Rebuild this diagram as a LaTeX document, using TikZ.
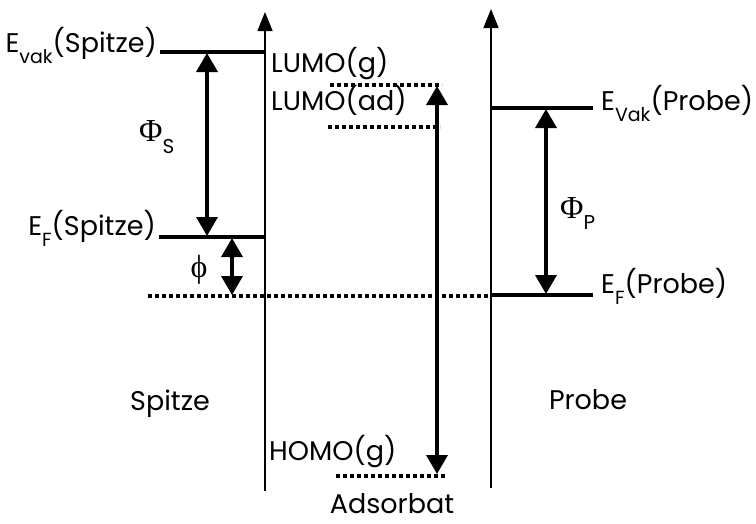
\documentclass[tikz,border=0pt]{standalone}
\usepackage{fontspec}
\setmainfont{Poppins}
\newfontfamily\grk{Liberation Serif}
\usetikzlibrary{arrows.meta}
\tikzset{
  axisline/.style={line width=1.5pt,-{Triangle[length=19pt,width=15pt]}},
  level/.style={line width=3.5pt},
  dotlevel/.style={line width=3.5pt,dash pattern=on 4pt off 3pt},
  gap/.style={line width=3.5pt,{Triangle[length=19pt,width=21pt]}-{Triangle[length=19pt,width=21pt]}},
  lbl/.style={inner sep=0pt,font=\fontsize{27}{30}\selectfont},
}
\newcommand{\sbx}[1]{\raisebox{-11pt}{\fontsize{19}{22}\selectfont #1}}
\begin{document}
\begin{tikzpicture}[x=1pt,y=-1pt]
\useasboundingbox (0,0) rectangle (756,523);
% axes
\coordinate (la0) at (265,491); \coordinate (la1) at (265,12);
\coordinate (ra0) at (491,488); \coordinate (ra1) at (491,9);
\draw[axisline] (la0) -- (la1);
\draw[axisline] (ra0) -- (ra1);
% Spitze levels
\coordinate (sv0) at (160,52); \coordinate (sv1) at (265,52);
\coordinate (sf0) at (159,237); \coordinate (sf1) at (265,237);
\draw[level] (sv0) -- (sv1);
\draw[level] (sf0) -- (sf1);
% common Fermi (dotted)
\coordinate (d0) at (148,296); \coordinate (d1) at (491,296);
\draw[dotlevel] (d0) -- (d1);
% Probe levels
\coordinate (pv0) at (491,108); \coordinate (pv1) at (593,108);
\coordinate (pf0) at (491,295); \coordinate (pf1) at (593,295);
\draw[level] (pv0) -- (pv1);
\draw[level] (pf0) -- (pf1);
% adsorbate levels
\coordinate (lg0) at (330,85); \coordinate (lg1) at (442,85);
\coordinate (la0d) at (328,127); \coordinate (la1d) at (440,127);
\coordinate (hg0) at (336,476); \coordinate (hg1) at (447,476);
\draw[dotlevel] (lg0) -- (lg1);
\draw[dotlevel] (la0d) -- (la1d);
\draw[dotlevel] (hg0) -- (hg1);
% gap arrows
\coordinate (phs0) at (207,53); \coordinate (phs1) at (207,236);
\coordinate (ph0) at (232,238); \coordinate (ph1) at (232,295);
\coordinate (ad0) at (437,86); \coordinate (ad1) at (437,474);
\coordinate (php0) at (546,109); \coordinate (php1) at (546,294);
\draw[gap] (phs0) -- (phs1);
\draw[gap] (ph0) -- (ph1);
\draw[gap] (ad0) -- (ad1);
\draw[gap] (php0) -- (php1);
% labels
\node[lbl,anchor=base east] (tevs) at (157,52) {E\sbx{vak}(Spitze)};
\node[lbl,anchor=base east] (tefs) at (156,235) {E\sbx{F}(Spitze)};
\node[lbl,anchor=base west] (tlg) at (271,72) {LUMO(g)};
\node[lbl,anchor=base west] (tlad) at (271,110) {LUMO(ad)};
\node[lbl,anchor=base west] (thg) at (269,460) {HOMO(g)};
\node[lbl,anchor=base west] (tevp) at (601,110) {E\sbx{Vak}(Probe)};
\node[lbl,anchor=base west] (tefp) at (601,293) {E\sbx{F}(Probe)};
\node[lbl,anchor=base] (tsp) at (170,410) {Spitze};
\node[lbl,anchor=base] (tpr) at (588,409) {Probe};
\node[lbl,anchor=base] (tads) at (392,513) {Adsorbat};
\node[lbl,anchor=base west] (tphis) at (139,141) {{\grk\fontsize{32}{32}\selectfont Φ}\raisebox{-12pt}{\fontsize{20}{22}\selectfont S}};
\node[lbl,anchor=base west] (tphip) at (560,218) {{\grk\fontsize{32}{32}\selectfont Φ}\raisebox{-11pt}{\fontsize{20}{22}\selectfont P}};
\node[lbl] (tphi) at (199,270) {{\grk\fontsize{32}{32}\selectfont ϕ}};
\end{tikzpicture}
\end{document}
